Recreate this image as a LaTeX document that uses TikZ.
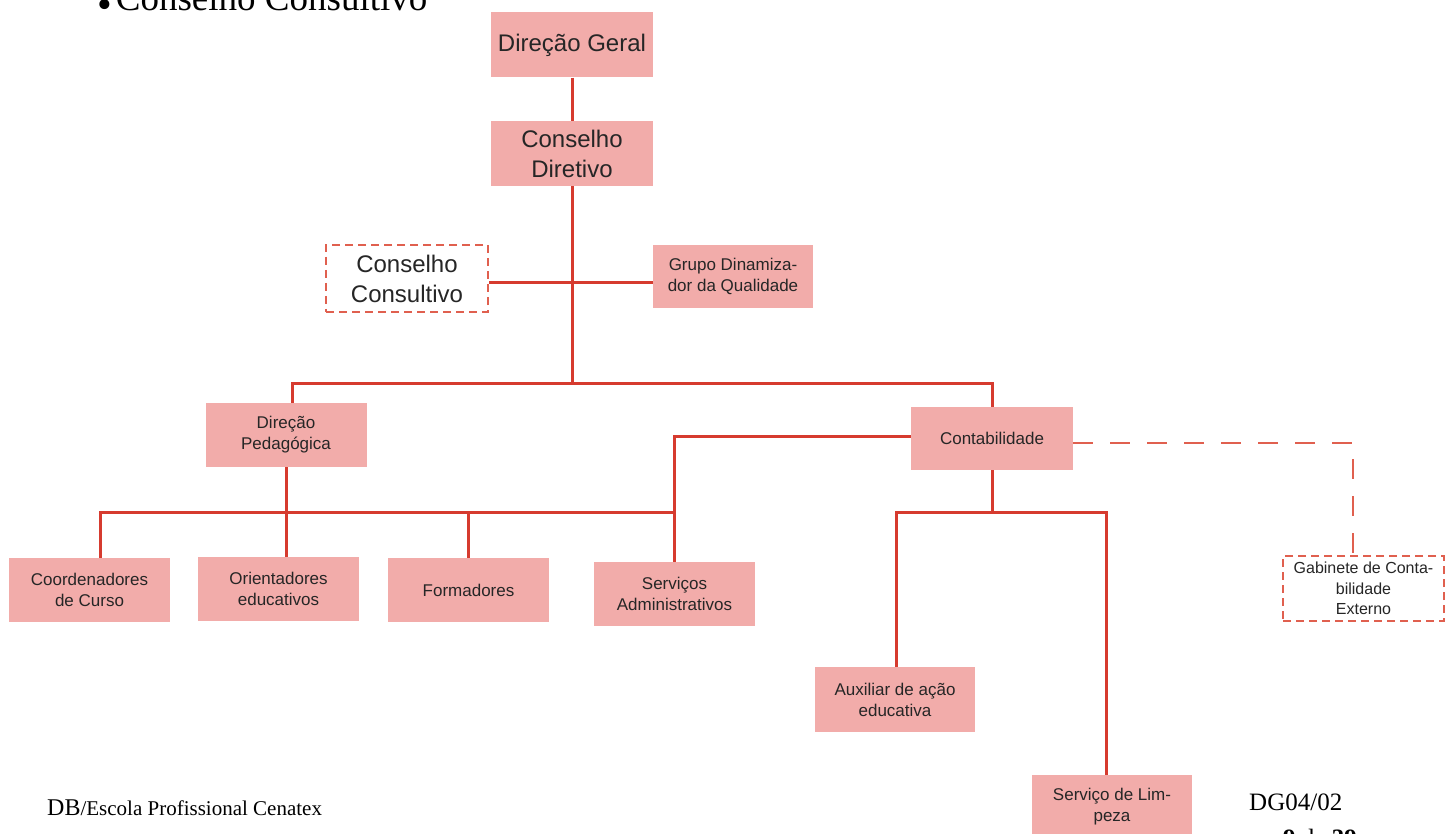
\documentclass[tikz,border=0pt]{standalone}
\usepackage{fontspec}
\setmainfont{Liberation Serif}
\newfontfamily\boxfont{Liberation Sans}
\definecolor{boxfill}{HTML}{F2ACAA}
\definecolor{linered}{HTML}{D63B2F}
\definecolor{dashred}{HTML}{E0604F}
\definecolor{txt}{HTML}{262626}
\begin{document}
\begin{tikzpicture}[x=1pt,y=-1pt,
  box/.style={fill=boxfill, draw=none, minimum width=161pt, minimum height=64pt,
    inner sep=0pt, align=center, text=txt, font=\boxfont\fontsize{17}{21}\selectfont},
  bigbox/.style={box, font=\boxfont\fontsize{24}{30}\selectfont},
  dbox/.style={fill=white, draw=dashred, dash pattern=on 8pt off 5pt, line width=2pt},
  conn/.style={draw=linered, line width=3pt},
  dconn/.style={draw=dashred, line width=2.5pt, dash pattern=on 20pt off 17pt},
  foot/.style={inner sep=0pt, anchor=base west, text=black}]
\useasboundingbox (0,0) rectangle (1448,834);
\clip (0,0) rectangle (1448,834);
\fill[white] (0,0) rectangle (1448,834);

% nodes
\node[bigbox, minimum width=162pt, minimum height=65pt] (dg) at (572,45) {Direção Geral};
\node[bigbox, minimum width=162pt, minimum height=65pt] (cd) at (572,153.5) {Conselho\\Diretivo};
\node[bigbox, dbox, minimum width=162pt, minimum height=67pt] (cc) at (407,278.5) {Conselho\\Consultivo};
\node[box, minimum width=160pt, minimum height=63pt] (gd) at (733,276.5) {Grupo Dinamiza-\\dor da Qualidade};
\node[box] (dp) at (286,435) {Direção\\Pedagógica};
\node[box, minimum width=162pt, minimum height=63pt] (ct) at (992,438.5) {Contabilidade};
\node[box] (co) at (89.5,590) {Coordenadores\\de Curso};
\node[box] (or) at (278.5,589) {Orientadores\\educativos};
\node[box] (fo) at (468.5,590) {Formadores};
\node[box] (sa) at (674.5,594) {Serviços\\Administrativos};
\node[box, dbox, minimum height=65pt, font=\boxfont\fontsize{16}{20.5}\selectfont] (gb) at (1363.5,588.5) {Gabinete de Conta-\\bilidade\\Externo};
\node[box, minimum width=160pt, minimum height=65pt] (ax) at (895,699.5) {Auxiliar de ação\\educativa};
\node[box, minimum width=160pt] (sl) at (1112,807) {Serviço de Lim-\\peza};

% junction points
\coordinate (h1) at (572,283);
\coordinate (b1) at (572,383);
\coordinate (b2) at (286,512);
\coordinate (b3) at (992,512);
\coordinate (dj) at (1353,443);

% connectors
\draw[conn] (dg.south) -- (cd.north);
\draw[conn] (cd.south) -- (b1);
\draw[conn] (cc.east |- h1) -- (gd.west |- h1);
\draw[conn] ([xshift=6pt]dp.north) |- (b1) -| (ct.north);
\draw[conn] (dp.south) -- (b2);
\draw[conn] ([xshift=11pt]co.north) |- (b2) -| (sa.north);
\draw[conn] (b2) -- (b2 |- or.north);
\draw[conn] (fo.north) -- (fo.north |- b2);
\draw[conn] ([yshift=2.5pt]ct.west) -| (sa.north);
\draw[conn] (ct.south) -- (b3);
\draw[conn] ([xshift=1pt]ax.north) |- (b3) -| ([xshift=-6pt]sl.north);
\draw[dconn] ([yshift=-4.5pt]ct.east) -- (dj) -- (dj |- gb.north);

% page texts
\node[foot, font=\fontsize{37}{40}\selectfont] (tt) at (97,11) {\raisebox{-8pt}{\fontsize{42}{42}\selectfont•}\kern4pt Conselho Consultivo};
\node[foot] (ft) at (47,815) {\fontsize{24}{26}\selectfont DB\fontsize{21}{24}\selectfont/Escola Profissional Cenatex};
\node[foot, font=\fontsize{25}{28}\selectfont] (dgc) at (1249,810) {DG04/02};
\node[foot, font=\fontsize{25}{28}\selectfont] (pg) at (1283,846) {\textbf{9} de \textbf{39}};
\end{tikzpicture}
\end{document}
